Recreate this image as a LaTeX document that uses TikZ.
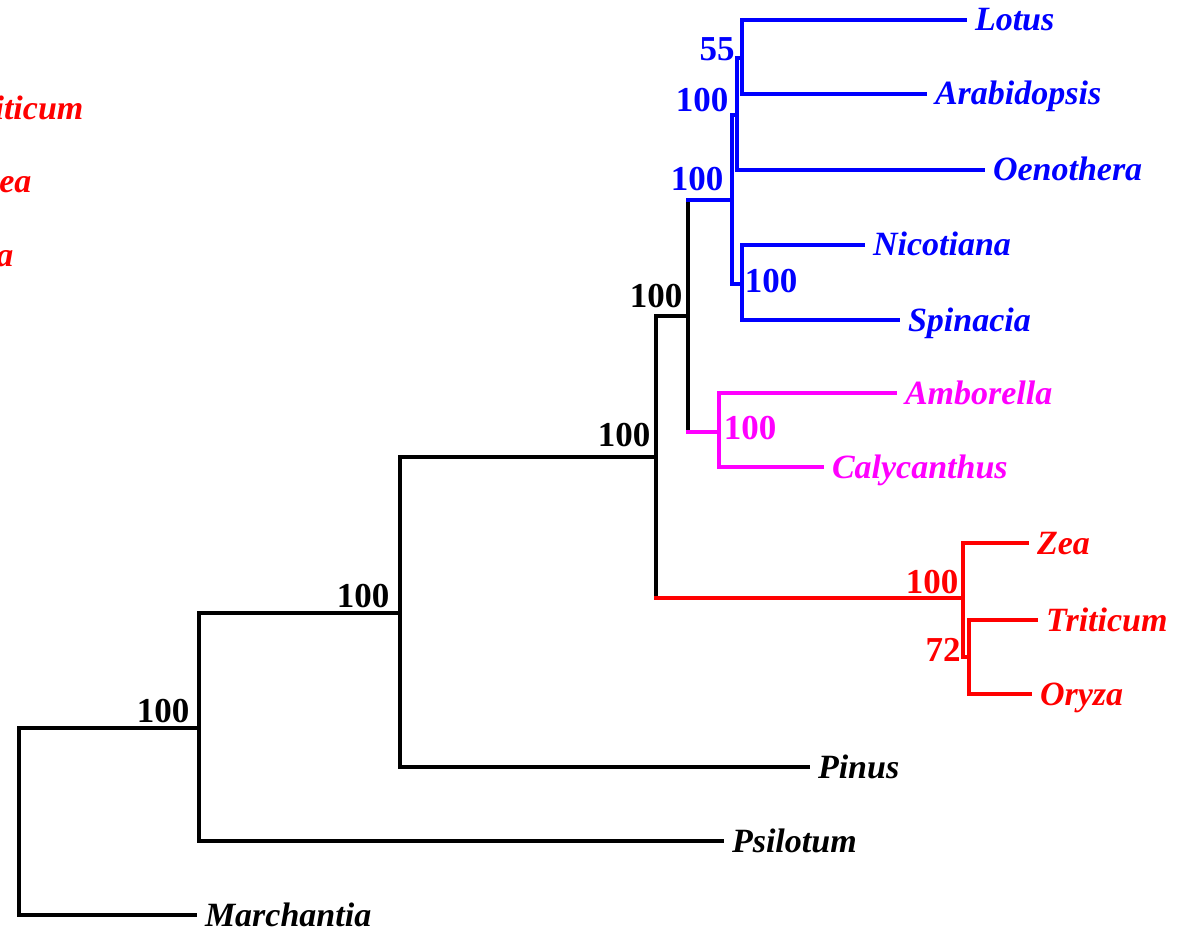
\documentclass[tikz,border=0pt]{standalone}
\usepackage{fontspec}
\setmainfont{Liberation Serif}
\definecolor{tblue}{RGB}{0,0,255}
\definecolor{tmag}{RGB}{255,0,255}
\definecolor{tred}{RGB}{255,0,0}
\begin{document}
\begin{tikzpicture}[x=1pt,y=-1pt,line width=3.3pt,line cap=rect,
  leaf/.style={anchor=west,inner sep=0pt,outer xsep=10pt,text height=22pt,text depth=0pt,
    font=\fontsize{34}{34}\selectfont\bfseries\itshape},
  frag/.style={anchor=base east,inner sep=0pt,text=tred,
    font=\fontsize{34}{34}\selectfont\bfseries\itshape},
  supp/.style={inner sep=0pt,font=\fontsize{35}{35}\selectfont\bfseries}]
\clip (0,0) rectangle (1189,928);
% left cut-off labels
\node[frag] (f1) at (85,120) {Triticum};
\node[frag] (f2) at (33,193) {Zea};
\node[frag] (f3) at (15,266) {Oryza};
% internal nodes
\coordinate (r) at (19,821);
\coordinate (n1) at (199,728);
\coordinate (n2) at (400,613);
\coordinate (n3) at (656,457);
\coordinate (n4) at (688,316);
\coordinate (n5) at (732,200);
\coordinate (n6a) at (737,115);
\coordinate (n6c) at (742,58);
\coordinate (n6b) at (742,284);
\coordinate (n7) at (719,432);
\coordinate (n8) at (963,598);
\coordinate (n9) at (969,657);
% leaves
\node[leaf] (marchantia) at (195,915) {Marchantia};
\node[leaf] (psilotum) at (722,841) {Psilotum};
\node[leaf] (pinus) at (808,767) {Pinus};
\node[leaf,text=tred] (zea) at (1027,543) {Zea};
\node[leaf,text=tred] (triticum) at (1036,620) {Triticum};
\node[leaf,text=tred] (oryza) at (1030,694) {Oryza};
\node[leaf,text=tmag] (amborella) at (895,393) {Amborella};
\node[leaf,text=tmag] (calycanthus) at (822,467) {Calycanthus};
\node[leaf,text=tblue] (lotus) at (965,20) {Lotus};
\node[leaf,text=tblue] (arabidopsis) at (925,94) {Arabidopsis};
\node[leaf,text=tblue] (oenothera) at (983,170) {Oenothera};
\node[leaf,text=tblue] (nicotiana) at (863,245) {Nicotiana};
\node[leaf,text=tblue] (spinacia) at (898,320) {Spinacia};
% black branches
\draw (r |- n1) -- (r |- marchantia.west);
\draw (r |- n1) -- (n1);
\draw (r |- marchantia.west) -- (marchantia.west);
\draw (n1 |- n2) -- (n1 |- psilotum.west);
\draw (n1 |- n2) -- (n2);
\draw (n1 |- psilotum.west) -- (psilotum.west);
\draw (n2 |- n3) -- (n2 |- pinus.west);
\draw (n2 |- n3) -- (n3);
\draw (n2 |- pinus.west) -- (pinus.west);
\draw (n3 |- n4) -- (n3 |- n8);
\draw (n3 |- n4) -- (n4);
\draw (n4 |- n5) -- (n4 |- n7);
% red clade
\begin{scope}[draw=tred]
\draw (n3 |- n8) -- (n8);
\draw (n8 |- zea.west) -- (n8 |- n9);
\draw (n8 |- zea.west) -- (zea.west);
\draw (n8 |- n9) -- (n9);
\draw (n9 |- triticum.west) -- (n9 |- oryza.west);
\draw (n9 |- triticum.west) -- (triticum.west);
\draw (n9 |- oryza.west) -- (oryza.west);
\end{scope}
% magenta clade
\begin{scope}[draw=tmag]
\draw (n4 |- n7) -- (n7);
\draw (n7 |- amborella.west) -- (n7 |- calycanthus.west);
\draw (n7 |- amborella.west) -- (amborella.west);
\draw (n7 |- calycanthus.west) -- (calycanthus.west);
\end{scope}
% blue clade
\begin{scope}[draw=tblue]
\draw (n4 |- n5) -- (n5);
\draw (n5 |- n6a) -- (n5 |- n6b);
\draw (n5 |- n6a) -- (n6a);
\draw (n5 |- n6b) -- (n6b);
\draw (n6a |- n6c) -- (n6a |- oenothera.west);
\draw (n6a |- n6c) -- (n6c);
\draw (n6a |- oenothera.west) -- (oenothera.west);
\draw (n6c |- lotus.west) -- (n6c |- arabidopsis.west);
\draw (n6c |- lotus.west) -- (lotus.west);
\draw (n6c |- arabidopsis.west) -- (arabidopsis.west);
\draw (n6b |- nicotiana.west) -- (n6b |- spinacia.west);
\draw (n6b |- nicotiana.west) -- (nicotiana.west);
\draw (n6b |- spinacia.west) -- (spinacia.west);
\end{scope}
% support values
\node[supp] (s1) at (163,711) {100};
\node[supp] (s2) at (363,596) {100};
\node[supp] (s3) at (624,435) {100};
\node[supp] (s4) at (656,296) {100};
\node[supp,text=tblue] (s5) at (697,179) {100};
\node[supp,text=tblue] (s6) at (702,100) {100};
\node[supp,text=tblue] (s7) at (717,49) {55};
\node[supp,text=tblue] (s8) at (771,281) {100};
\node[supp,text=tmag] (s9) at (750,428) {100};
\node[supp,text=tred] (s10) at (932,582) {100};
\node[supp,text=tred] (s11) at (943,650) {72};
\end{tikzpicture}
\end{document}
